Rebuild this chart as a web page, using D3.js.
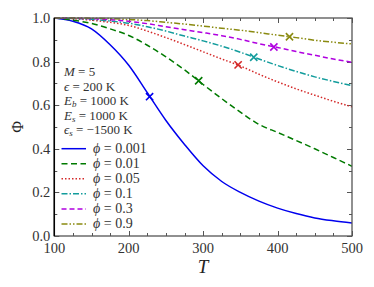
<!DOCTYPE html>
<html><head><meta charset="utf-8">
<script src="https://cdn.jsdelivr.net/npm/d3@7"></script>
<style>
body{margin:0;background:#fff;}
</style></head>
<body><svg id="c" width="374" height="287" font-family="'Liberation Serif', 'DejaVu Serif', serif"></svg>
<script>
const temps = [100,125,150,175,200,225,250,275,300,325,350,375,400,425,450,475,500];
const phi0001 = [1.0,0.985,0.95,0.877,0.783,0.657,0.53,0.42,0.322,0.25,0.2,0.16,0.128,0.103,0.083,0.07,0.06];
const phi001  = [1.0,0.99,0.975,0.95,0.92,0.875,0.822,0.762,0.695,0.63,0.568,0.512,0.475,0.438,0.40,0.36,0.32];
const phi005  = [1.0,0.997,0.99,0.98,0.966,0.94,0.91,0.878,0.845,0.812,0.78,0.742,0.707,0.675,0.646,0.618,0.593];
const phi01   = [1.0,0.998,0.994,0.986,0.976,0.96,0.94,0.917,0.895,0.871,0.843,0.812,0.782,0.755,0.73,0.709,0.69];
const phi03   = [1.0,0.999,0.997,0.992,0.985,0.974,0.96,0.946,0.933,0.919,0.902,0.882,0.865,0.846,0.829,0.812,0.797];
const phi09   = [1.0,1.0,0.999,0.997,0.993,0.988,0.98,0.972,0.963,0.953,0.944,0.933,0.921,0.91,0.898,0.889,0.881];
const seriesLabels = ["0.001","0.01","0.05","0.1","0.3","0.9"];
const markerT   = [228,294,347,368,395,416];
const markerPhi = [0.639,0.712,0.785,0.82,0.867,0.914];
const xTicks = [100,200,300,400,500];
const yTicks = [0.0,0.2,0.4,0.6,0.8,1.0];

const allSeries = [phi0001,phi001,phi005,phi01,phi03,phi09];
const colors = ["#0000ee","#007a00","#d42a2a","#129c9c","#b000e0","#8a8a10"];
const dashes = [null,"6,3.5","1.5,2","6,2,1.5,2","5,3","6,2,1.5,2,1.5,2"];

const svg = d3.select("#c");
const L=54.3,R=352,T0=18,B=236;
const x = d3.scaleLinear().domain([100,500]).range([L,R]);
const y = d3.scaleLinear().domain([0,1]).range([B,T0]);

svg.append("clipPath").attr("id","cp").append("rect")
  .attr("x",L).attr("y",T0-2).attr("width",R-L).attr("height",B-T0+2);

// ticks (inward, all four sides)
const xMinor = d3.range(100,501,25), yMinor = d3.range(0,1.001,0.1);
const tk = svg.append("g").attr("stroke","#555").attr("stroke-width",1);
xMinor.forEach(v=>{
  const major = xTicks.includes(v); const len = major?5:3; const px=Math.round(x(v))+0.5;
  tk.append("line").attr("x1",px).attr("x2",px).attr("y1",B).attr("y2",B-len);
  tk.append("line").attr("x1",px).attr("x2",px).attr("y1",T0).attr("y2",T0+len);
});
yMinor.forEach(v=>{
  const major = Math.abs(Math.round(v*10)%2)===0; const len = major?5:3; const py=Math.round(y(v))+0.5;
  tk.append("line").attr("y1",py).attr("y2",py).attr("x1",L).attr("x2",L+len);
  tk.append("line").attr("y1",py).attr("y2",py).attr("x1",R).attr("x2",R-len);
});

// curves
const line = d3.line().x((d,i)=>x(temps[i])).y(d=>y(d)).curve(d3.curveMonotoneX);
const curves = svg.append("g").attr("clip-path","url(#cp)");
allSeries.forEach((s,i)=>{
  curves.append("path").attr("d",line(s)).attr("fill","none")
    .attr("stroke",colors[i]).attr("stroke-width",1.5)
    .attr("stroke-dasharray",dashes[i]);
});
// markers
markerT.forEach((t,i)=>{
  const cx=x(t), cy=y(markerPhi[i]), r=3.6;
  svg.append("path").attr("d",`M${cx-r},${cy-r}L${cx+r},${cy+r}M${cx-r},${cy+r}L${cx+r},${cy-r}`)
    .attr("stroke",colors[i]).attr("stroke-width",1.6).attr("fill","none");
});

// frame
svg.append("rect").attr("x",L).attr("y",T0).attr("width",R-L).attr("height",B-T0)
  .attr("fill","none").attr("stroke","#555").attr("stroke-width",1.3);
svg.append("line").attr("x1",L).attr("x2",L).attr("y1",T0).attr("y2",B).attr("stroke","#000").attr("stroke-width",1.5);

// tick labels
xTicks.forEach(v=>{
  svg.append("text").attr("x",x(v)).attr("y",253).attr("text-anchor","middle")
    .attr("font-size",14.5).attr("fill","#333").text(v);
});
yTicks.forEach(v=>{
  svg.append("text").attr("x",L-4).attr("y",y(v)+5).attr("text-anchor","end")
    .attr("font-size",14.5).attr("fill","#333").text(v.toFixed(1));
});
// axis labels
svg.append("text").attr("x",x(300)).attr("y",273).attr("text-anchor","middle")
  .attr("font-size",19).attr("font-style","italic").attr("fill","#222").text("T");
svg.append("text").attr("transform",`translate(23,${(T0+B)/2}) rotate(-90)`)
  .attr("text-anchor","middle").attr("font-size",16).attr("fill","#222").text("Φ");

// annotation
const ann = svg.append("g").attr("font-size",13).attr("fill","#333");
function mathLine(yy, parts){
  const t = ann.append("text").attr("x",64).attr("y",yy);
  parts.forEach(p=>{
    const ts=t.append("tspan").text(p[0]);
    if(p[1]==="i") ts.attr("font-style","italic");
    if(p[1]==="sub"){ ts.attr("font-size",9).attr("font-style","italic").attr("dy",2); }
    if(p[1]==="up"){ ts.attr("dy",-2); }
  });
}
mathLine(76,[["M","i"],[" = 5"]]);
mathLine(90.5,[["ϵ","i"],[" = 200 K"]]);
mathLine(105,[["E","i"],["b","sub"],[" = 1000 K","up"]]);
mathLine(119.5,[["E","i"],["s","sub"],[" = 1000 K","up"]]);
mathLine(134,[["ϵ","i"],["s","sub"],[" = −1500 K","up"]]);

// legend
const lg = svg.append("g");
seriesLabels.forEach((lab,i)=>{
  const yy = 148.7 + i*15.05;
  lg.append("line").attr("x1",61.5).attr("x2",86).attr("y1",yy).attr("y2",yy)
    .attr("stroke",colors[i]).attr("stroke-width",1.5).attr("stroke-dasharray",dashes[i]);
  const t = lg.append("text").attr("x",93).attr("y",yy+4.5).attr("font-size",14).attr("fill","#333");
  t.append("tspan").attr("font-style","italic").text("ϕ");
  t.append("tspan").text(" = "+lab);
});
</script></body></html>
